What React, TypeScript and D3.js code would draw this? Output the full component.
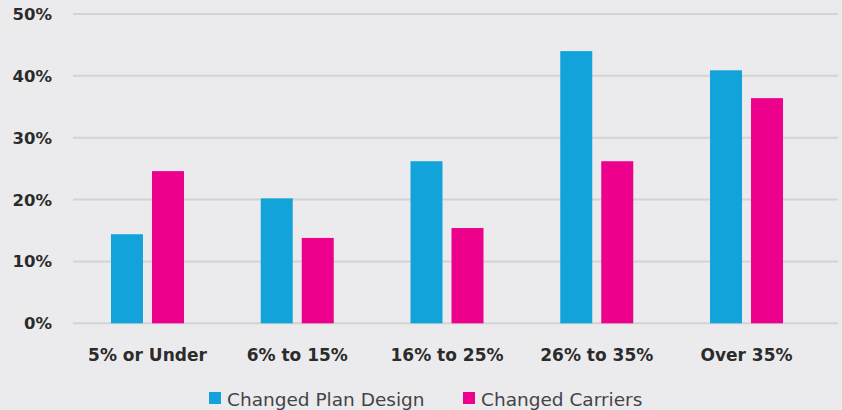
import React from "react";
import * as d3 from "d3";

const categories = ["5% or Under", "6% to 15%", "16% to 25%", "26% to 35%", "Over 35%"];
const planDesign = [14.4, 20.2, 26.2, 44.0, 40.9];
const carriers = [24.6, 13.8, 15.4, 26.2, 36.4];
const yTicks = [0, 10, 20, 30, 40, 50];
const seriesNames = ["Changed Plan Design", "Changed Carriers"];
const colors = ["#12a3db", "#ec008c"];

export default function App() {
  const W = 842, H = 410;
  const y = d3.scaleLinear().domain([0, 50]).range([323.3, 14]);
  const x = d3.scaleBand().domain(categories).range([72.6, 821.4]).paddingInner(0).paddingOuter(0);
  const barW = 32, gap = 9;
  const series = [planDesign, carriers];
  const font = "'DejaVu Sans', sans-serif";
  return (
    <svg width={W} height={H} style={{ display: "block", position: "absolute", left: 0, top: 0 }}>
      <style>{`body{margin:0}`}</style>
      <rect x={0} y={0} width={W} height={H} fill="#ebebee" />
      {yTicks.map((t) => (
        <g key={t}>
          <line x1={73} x2={838} y1={y(t)} y2={y(t)} stroke="#d3d3d6" strokeWidth={2} />
          <text x={52} y={y(t)} dy="0.36em" textAnchor="end" fontFamily={font} fontWeight={700} fontSize={16.5} fill="#2b2b2b">
            {t}%
          </text>
        </g>
      ))}
      {categories.map((c, i) => {
        const cx = (x(c) as number) + x.bandwidth() / 2;
        return (
          <g key={c}>
            {series.map((s, j) => {
              const bx = cx - gap / 2 - barW + j * (barW + gap);
              return (
                <rect key={j} x={bx} y={y(s[i])} width={barW} height={y(0) - y(s[i])} fill={colors[j]} />
              );
            })}
            <text x={cx} y={360.5} textAnchor="middle" fontFamily={font} fontWeight={700} fontSize={17} fill="#2b2b2b">
              {c}
            </text>
          </g>
        );
      })}
      {seriesNames.map((n, j) => {
        const lx = [209, 463][j];
        return (
          <g key={n}>
            <rect x={lx} y={392} width={12} height={12} fill={colors[j]} />
            <text x={lx + 18} y={406} fontFamily={font} fontSize={18.5} fill="#444447">
              {n}
            </text>
          </g>
        );
      })}
    </svg>
  );
}
